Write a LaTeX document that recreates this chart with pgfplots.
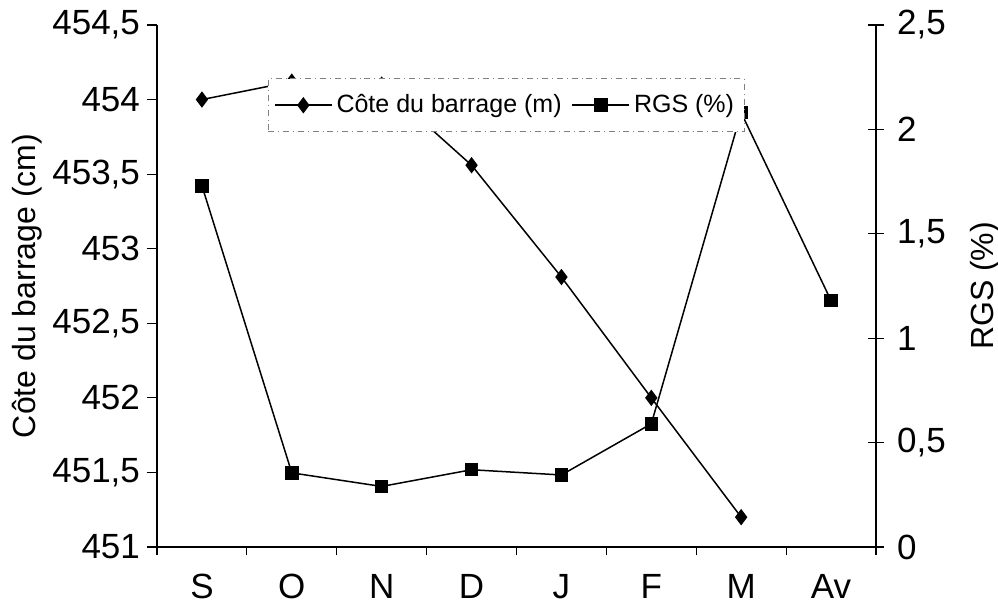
\documentclass[border=0pt]{standalone}
\usepackage{pgfplots}
\pgfplotsset{compat=1.18}
\usepackage{fontspec}
\setmainfont{Liberation Sans}
\begin{document}
\begin{tikzpicture}
\useasboundingbox (-78.5pt,-32pt) rectangle (420.5pt,273.5pt);
\pgfplotsset{
  common/.style={
    scale only axis, width=359.5pt, height=261pt,
    at={(0,0)}, anchor=south west,
    xmin=-0.5, xmax=7.5,
    /pgf/number format/assume math mode=true,
    /pgf/number format/use comma,
    tick label style={font=\fontsize{17.5}{21}\selectfont},
    label style={font=\fontsize{16}{19}\selectfont},
    axis line style={black, line width=0.6pt},
    tick style={black, line width=0.6pt},
  }
}
\begin{axis}[common,
  axis x line*=bottom, axis y line*=left,
  tick align=outside,
  ymin=451, ymax=454.5,
  ytick={451,451.5,452,452.5,453,453.5,454,454.5},
  major tick length=5pt, minor tick length=4pt,
  xtick={0,...,7}, xticklabels={S,O,N,D,J,F,M,Av},
  xticklabel style={yshift=-5pt},
  major x tick style={draw=none},
  minor xtick={-0.5,0.5,...,7.5},
  ylabel={Côte du barrage (cm)},
  ylabel style={at={(axis description cs:-0.181,0.5)}, anchor=center},
]
\addplot[black, line width=0.75pt, mark=diamond*, mark size=3.5pt] coordinates {
  (0,454.0) (1,454.12) (2,454.1) (3,453.56) (4,452.81) (5,452.0) (6,451.2)
};
\end{axis}
\begin{axis}[common,
  axis x line=none, axis y line*=right,
  tick align=center, major tick length=8pt,
  ymin=0, ymax=2.5, ytick={0,0.5,1,1.5,2,2.5},
  yticklabel style={xshift=3pt},
  ylabel={RGS (\%)},
  ylabel style={at={(axis description cs:1.152,0.5)}, anchor=center},
  legend columns=2,
  legend style={at={(rel axis cs:0.154,0.898)}, anchor=north west,
    draw=gray, dash dot, fill=white, font=\fontsize{12.5}{15}\selectfont,
    inner ysep=6pt, inner xsep=3pt,
    /tikz/every even column/.append style={column sep=3pt}},
  legend image code/.code={\draw[mark repeat=2,mark phase=2] plot coordinates {(0cm,0cm) (0.5cm,0cm) (1.0cm,0cm)};},
]
\addlegendimage{black, line width=0.75pt, mark=diamond*, mark size=3.5pt, solid}
\addlegendentry{Côte du barrage (m)}
\addplot[black, line width=0.75pt, mark=square*, mark size=3pt, solid] coordinates {
  (0,1.73) (1,0.355) (2,0.29) (3,0.37) (4,0.345) (5,0.59) (6,2.08) (7,1.18)
};
\addlegendentry{RGS (\%)}
\end{axis}
\end{tikzpicture}
\end{document}
